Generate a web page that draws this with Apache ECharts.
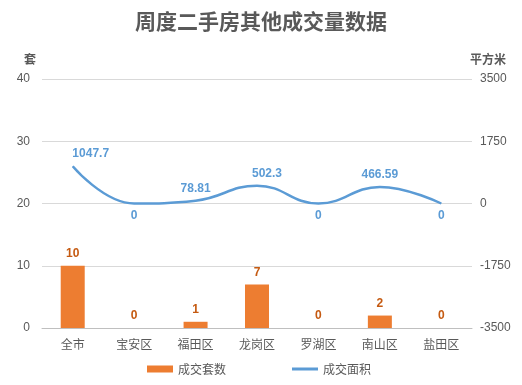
<!DOCTYPE html>
<html><head><meta charset="utf-8">
<script src="https://cdn.jsdelivr.net/npm/echarts@6/dist/echarts.min.js"></script>
<style>html,body{margin:0;padding:0;background:#fff}#c{width:522px;height:385px}</style>
</head><body><div id="c"></div>
<script>
var categories = ['全市','宝安区','福田区','龙岗区','罗湖区','南山区','盐田区'];
var countValues = [10, 0, 1, 7, 0, 2, 0];
var areaValues = [1047.7, 0, 78.81, 502.3, 0, 466.59, 0];
var leftTicks = [0, 40, 10];
var rightTicks = [-3500, 3500, 1750];
var font = '"Microsoft YaHei","Noto Sans CJK SC",sans-serif';
var labelOffsets = {0: [18, 0], 3: [10, 0]};
var chart = echarts.init(document.getElementById('c'));
chart.setOption({
  animation: false,
  title: {text: '周度二手房其他成交量数据', left: 'center', top: 6,
    textStyle: {fontSize: 21, fontWeight: 'bold', color: '#595959', fontFamily: font}},
  legend: {bottom: 5, left: 142, itemGap: 66, itemWidth: 26, itemHeight: 7,
    textStyle: {color: '#595959', fontSize: 12, fontFamily: font},
    data: [{name: '成交套数', icon: 'rect'},
           {name: '成交面积', icon: 'path://M0,0 L26,0 L26,3 L0,3 Z', itemStyle: {color: '#5b9bd5', opacity: 1}}]},
  grid: {left: 42, right: 50, top: 79, bottom: 57},
  xAxis: {type: 'category', data: categories,
    axisLine: {lineStyle: {color: '#bfbfbf'}}, axisTick: {show: false},
    axisLabel: {color: '#595959', fontSize: 12, fontFamily: font, margin: 10}},
  yAxis: [
    {type: 'value', min: leftTicks[0], max: leftTicks[1], interval: leftTicks[2],
      name: '套', nameLocation: 'end', nameGap: 14,
      nameTextStyle: {color: '#595959', fontWeight: 'bold', fontSize: 12, fontFamily: font, align: 'right', padding: [0, 6, 0, 0]},
      axisLine: {show: false}, axisTick: {show: false},
      axisLabel: {color: '#595959', fontSize: 12, margin: 12},
      splitLine: {lineStyle: {color: '#d9d9d9'}}},
    {type: 'value', min: rightTicks[0], max: rightTicks[1], interval: rightTicks[2],
      name: '平方米', nameLocation: 'end', nameGap: 14,
      nameTextStyle: {color: '#595959', fontWeight: 'bold', fontSize: 12, fontFamily: font, align: 'left', padding: [0, 0, 0, -2]},
      axisLine: {show: false}, axisTick: {show: false},
      axisLabel: {color: '#595959', fontSize: 12, margin: 8, formatter: function(v){ return String(v); }},
      splitLine: {show: false}}
  ],
  series: [
    {name: '成交套数', type: 'bar', data: countValues, barWidth: 24, yAxisIndex: 0,
      itemStyle: {color: '#ed7d31'},
      label: {show: true, position: 'top', distance: 6, color: '#c55a11', fontWeight: 'bold', fontSize: 12}},
    {name: '成交面积', type: 'line', data: areaValues.map(function(v, i){
        return {value: v, label: {position: v === 0 ? 'bottom' : 'top', offset: labelOffsets[i] || [0, 0]}};
      }), yAxisIndex: 1, smooth: 0.45, symbol: 'circle', symbolSize: 0.5, showSymbol: true,
      lineStyle: {color: '#5b9bd5', width: 2.5}, itemStyle: {color: '#5b9bd5'},
      label: {show: true, color: '#5b9bd5', fontWeight: 'bold', fontSize: 12, distance: 6}}
  ]
});
</script></body></html>
